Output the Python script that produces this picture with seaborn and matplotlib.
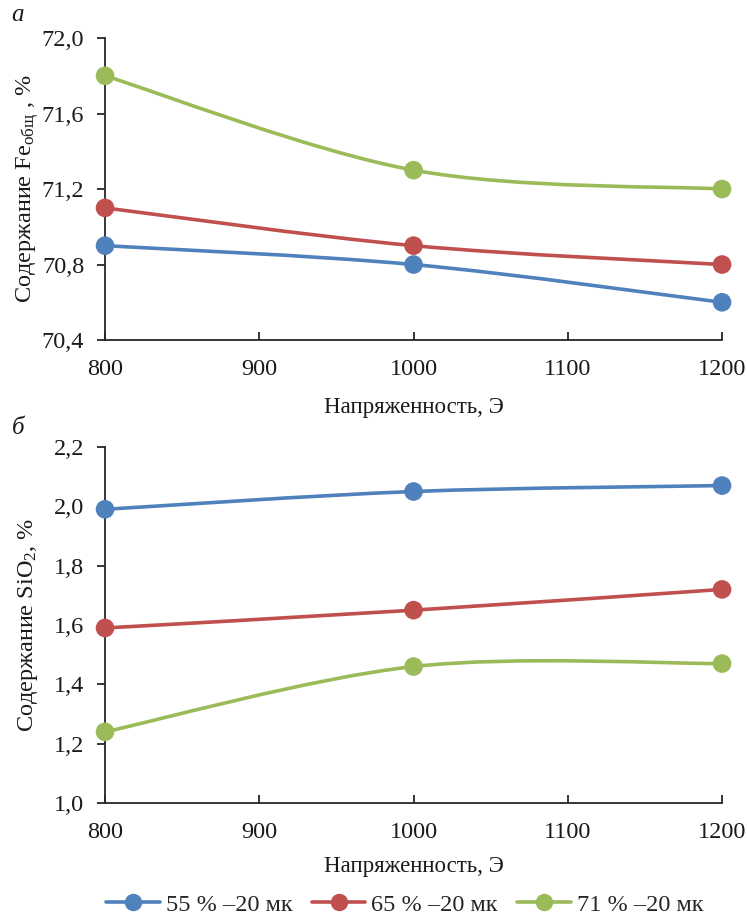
import numpy as np
import pandas as pd
import matplotlib
matplotlib.use('Agg')
import matplotlib.pyplot as plt
from matplotlib.path import Path
from matplotlib.patches import PathPatch
from matplotlib.lines import Line2D
from matplotlib.ticker import FuncFormatter, MultipleLocator
import seaborn as sns

# данные
field = [800, 1000, 1200]
series = ['55 % \u201320 мк', '65 % \u201320 мк', '71 % \u201320 мк']
fe_55 = [70.9, 70.8, 70.6]
fe_65 = [71.1, 70.9, 70.8]
fe_71 = [71.8, 71.3, 71.2]
si_55 = [1.99, 2.05, 2.07]
si_65 = [1.59, 1.65, 1.72]
si_71 = [1.24, 1.46, 1.47]
colors = ['#4F81BD', '#C0504D', '#9BBB59']

sns.set_theme(style='white')
plt.rcParams['font.family'] = ['Liberation Serif', 'DejaVu Serif']
plt.rcParams['mathtext.fontset'] = 'custom'
plt.rcParams['mathtext.rm'] = 'Liberation Serif'
plt.rcParams['mathtext.it'] = 'Liberation Serif:italic'

def long_df(vals):
    rows = []
    for name, v in zip(series, vals):
        for x, y in zip(field, v):
            rows.append({'field': x, 'value': y, 'series': name})
    return pd.DataFrame(rows)

def smooth_path(xs, ys):
    # сглаживание как в Excel (Catmull-Rom -> Bezier)
    p = np.column_stack([xs, ys]).astype(float)
    pts = np.vstack([p[0], p, p[-1]])
    verts = [p[0]]
    codes = [Path.MOVETO]
    for i in range(1, len(pts) - 2):
        c1 = pts[i] + (pts[i + 1] - pts[i - 1]) / 6
        c2 = pts[i + 1] - (pts[i + 2] - pts[i]) / 6
        verts += [c1, c2, pts[i + 1]]
        codes += [Path.CURVE4] * 3
    return Path(verts, codes)

fmt = FuncFormatter(lambda v, _: f'{v:.1f}'.replace('.', ','))
txt = '#1a1a1a'

fig = plt.figure(figsize=(7.47, 9.19), dpi=100)
ax1 = fig.add_axes([0.1406, 0.630, 0.826, 0.3286])
ax2 = fig.add_axes([0.1406, 0.1262, 0.826, 0.3874])

panels = [
    (ax1, [fe_55, fe_65, fe_71], (70.4, 72.0), 0.4, 'Содержание Fe$_{\\mathrm{общ}}$ , %', -0.225),
    (ax2, [si_55, si_65, si_71], (1.0, 2.2), 0.2, 'Содержание SiO$_2$, %', -0.177),
]

for ax, vals, ylim, step, ylabel, xlab_y in panels:
    df = long_df(vals)
    for name, c, v in zip(series, colors, vals):
        ax.add_patch(PathPatch(smooth_path(field, v), facecolor='none',
                               edgecolor=c, lw=2.6, clip_on=False, zorder=2))
    sns.scatterplot(data=df, x='field', y='value', hue='series', palette=colors,
                    s=180, edgecolor='none', legend=False, ax=ax, clip_on=False, zorder=3)
    ax.set_xlim(800, 1200)
    ax.set_ylim(*ylim)
    ax.xaxis.set_major_locator(MultipleLocator(100))
    ax.yaxis.set_major_locator(MultipleLocator(step))
    ax.yaxis.set_major_formatter(fmt)
    for s in ['top', 'right']:
        ax.spines[s].set_visible(False)
    for s in ['left', 'bottom']:
        ax.spines[s].set_color('#262626')
        ax.spines[s].set_linewidth(1.3)
    ax.tick_params(axis='y', direction='out', length=6, width=1.3, color='#262626',
                   labelsize=17.5, pad=9, left=True, labelcolor=txt)
    ax.tick_params(axis='x', direction='in', length=6, width=1.3, color='#262626',
                   labelsize=17.5, pad=14, bottom=True, labelcolor=txt)
    ax.set_xlabel('Напряженность, Э', fontsize=16.5, color=txt, va='center')
    ax.xaxis.set_label_coords(0.5, xlab_y)
    ax.set_ylabel(ylabel, fontsize=17.5, color=txt, va='center')
    ax.yaxis.set_label_coords(-0.125, 0.5)

fig.text(18 / 747, 1 - 15 / 919, 'а', fontsize=18, style='italic',
         ha='center', va='center', color=txt)
fig.text(18 / 747, 1 - 428 / 919, 'б', fontsize=18, style='italic',
         ha='center', va='center', color=txt)

handles = [Line2D([0], [0], color=c, lw=2.6, marker='o', markersize=11.5) for c in colors]
fig.legend(handles, series, loc='center', bbox_to_anchor=(0.542, 0.0155), ncol=3,
           frameon=False, fontsize=17.5, handlelength=2.2, columnspacing=0.8,
           handletextpad=0.25, borderaxespad=0)

fig.savefig('out.png', dpi=100)
